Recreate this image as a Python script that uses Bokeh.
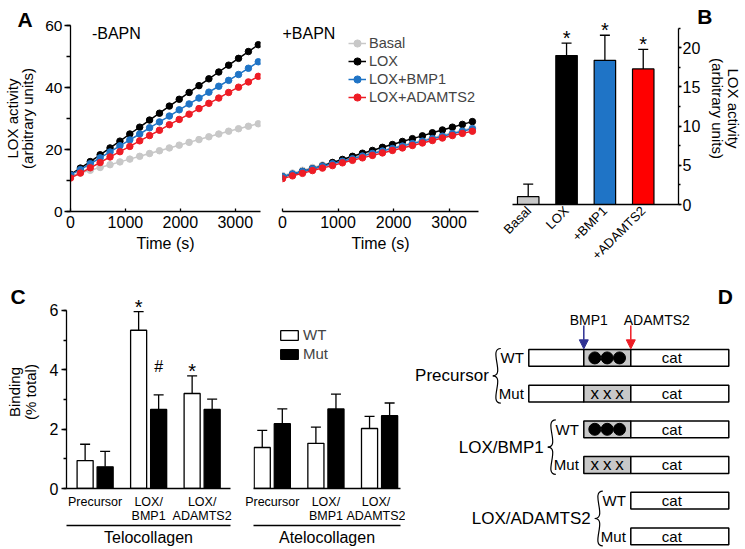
import math
from bokeh.plotting import figure
from bokeh.layouts import row, column
from bokeh.models import (Range1d, LinearAxis, SingleIntervalTicker, FixedTicker, Legend,
                          LegendItem, Whisker, TeeHead, ColumnDataSource, Arrow, NormalHead)
from bokeh.core.properties import value
from bokeh.embed import file_html
from bokeh.resources import INLINE

FONT = "Liberation Sans"

# ---------------- Panel A data (LOX activity time course) ----------------
time_s = [0, 180, 360, 540, 720, 900, 1080, 1260, 1440, 1620,
          1800, 1980, 2160, 2340, 2520, 2700, 2880, 3060, 3240, 3420]
series_names = ["Basal", "LOX", "LOX+BMP1", "LOX+ADAMTS2"]
series_colors = ["#c8c8c8", "#000000", "#1f74c6", "#ee1c25"]

noB_basal = [11.5, 12.4, 13.3, 14.2, 15.1, 16.0, 16.9, 17.8, 18.7, 19.6,
             20.5, 21.4, 22.3, 23.2, 24.1, 25.0, 25.9, 26.7, 27.5, 28.3]
noB_lox = [12.0, 14.0, 16.1, 18.3, 20.5, 22.7, 25.0, 27.2, 29.5, 31.7,
           34.0, 36.2, 38.4, 40.6, 42.8, 45.0, 47.2, 49.4, 51.6, 53.8]
noB_bmp1 = [11.8, 13.5, 15.4, 17.3, 19.2, 21.2, 23.1, 25.0, 27.0, 28.9,
            30.8, 32.8, 34.7, 36.6, 38.5, 40.4, 42.3, 44.2, 46.2, 48.3]
noB_adamts2 = [10.8, 12.4, 14.1, 15.8, 17.6, 19.3, 21.0, 22.8, 24.5, 26.2,
               28.0, 29.7, 31.4, 33.2, 34.9, 36.6, 38.4, 40.1, 41.8, 43.6]

B_basal = [11.6, 12.4, 13.3, 14.2, 15.0, 15.8, 16.6, 17.4, 18.2, 19.0,
           19.8, 20.6, 21.4, 22.2, 23.0, 23.8, 24.6, 25.4, 26.2, 27.0]
B_lox = [11.2, 12.0, 12.9, 13.8, 14.7, 15.8, 16.8, 17.8, 18.8, 19.7,
         20.7, 21.6, 22.6, 23.5, 24.4, 25.4, 26.3, 27.2, 28.1, 29.0]
B_bmp1 = [11.3, 12.1, 12.9, 13.8, 14.6, 15.4, 16.2, 17.0, 17.9, 18.7,
          19.5, 20.3, 21.1, 21.9, 22.7, 23.5, 24.3, 25.1, 25.9, 26.7]
B_adamts2 = [10.6, 11.5, 12.3, 13.2, 14.0, 14.8, 15.7, 16.5, 17.3, 18.1,
             18.9, 19.7, 20.5, 21.3, 22.1, 22.9, 23.7, 24.5, 25.2, 25.9]

# ---------------- Panel B data ----------------
b_categories = ["Basal", "LOX", "+BMP1", "+ADAMTS2"]
b_values = [1.0, 19.0, 18.4, 17.3]
b_sd = [1.6, 1.6, 3.2, 2.5]
b_colors = ["#c8c8c8", "#000000", "#1f74c6", "#ff0000"]
b_marks = ["", "*", "*", "*"]

# ---------------- Panel C data ----------------
c_groups = ["Precursor", "LOX/\nBMP1", "LOX/\nADAMTS2"]
telo_wt = [0.94, 5.33, 3.20]
telo_wt_sd = [0.55, 0.63, 0.59]
telo_mut = [0.73, 2.66, 2.66]
telo_mut_sd = [0.52, 0.49, 0.35]
telo_wt_marks = ["", "*", "*"]
telo_mut_marks = ["", "#", ""]
atelo_wt = [1.38, 1.52, 2.02]
atelo_wt_sd = [0.58, 0.55, 0.41]
atelo_mut = [2.18, 2.68, 2.45]
atelo_mut_sd = [0.50, 0.50, 0.43]
atelo_wt_marks = ["", "", ""]
atelo_mut_marks = ["", "", ""]

# ---------------- Panel D (construct diagram) ----------------
d_groups = ["Precursor", "LOX/BMP1", "LOX/ADAMTS2"]
d_variants = ["WT", "Mut"]
d_start = [0, 55, 102]          # N-terminus of each construct (sequence units)
bmp1_site = 55
adamts2_site = 102
c_term = 200
motif_x = [66.0, 78.4, 90.7]    # the three residues between the cleavage sites


def style_axis(ax, size="16px"):
    ax.axis_line_color = "black"
    ax.axis_line_width = 1.3
    ax.major_tick_line_color = "black"
    ax.major_tick_line_width = 1.3
    ax.minor_tick_line_color = "black"
    ax.minor_tick_line_width = 1.3
    ax.major_label_text_font = FONT
    ax.major_label_text_font_size = size
    ax.major_label_text_color = "black"
    ax.axis_label_text_font = FONT
    ax.axis_label_text_font_style = "normal"
    ax.axis_label_text_color = "black"
    ax.axis_label_text_line_height = 0.9


def new_fig(w, h, xr, yr, bl, br, bt, bb, **kw):
    p = figure(width=w, height=h, x_range=xr, y_range=yr, output_backend="svg",
               toolbar_location=None, min_border_left=bl, min_border_right=br,
               min_border_top=bt, min_border_bottom=bb, frame_align=False, **kw)
    p.outline_line_color = None
    p.grid.grid_line_color = None
    return p


def panel_letter(p, t, align, offset, valign, standoff):
    p.title.text = t
    p.title.text_font = FONT
    p.title.text_font_size = "21px"
    p.title.text_font_style = "bold"
    p.title.text_color = "black"
    p.title.align = align
    p.title.offset = offset
    p.title.standoff = standoff
    p.title.vertical_align = valign


# ---------------- Panel A ----------------
def lox_panel(w, bl, br, xmax, data, show_y, tag, tag_x):
    p = new_fig(w, 270, Range1d(0, xmax), Range1d(0, 60), bl, br, 25, 59,
                y_axis_location=("left" if show_y else None))
    xa = p.xaxis[0]
    style_axis(xa)
    xa.ticker = SingleIntervalTicker(interval=1000, num_minor_ticks=0)
    xa.major_tick_in = 3
    xa.major_tick_out = 0
    xa.major_label_standoff = 4
    xa.axis_label = "Time (s)"
    xa.axis_label_text_font_size = "16px"
    xa.axis_label_standoff = 4
    if show_y:
        ya = p.yaxis[0]
        style_axis(ya, "15.5px")
        ya.ticker = SingleIntervalTicker(interval=20, num_minor_ticks=2)
        ya.major_tick_out = 6
        ya.major_tick_in = 0
        ya.minor_tick_out = 4
        ya.minor_tick_in = 0
        ya.major_label_standoff = 2
        ya.axis_label = "LOX activity\n(arbitrary units)"
        ya.axis_label_text_font_size = "15px"
        ya.axis_label_standoff = 6
    items = []
    for name, vals, col in zip(series_names, data, series_colors):
        r1 = p.line(time_s, vals, line_color=col, line_width=1.5)
        r2 = p.scatter(time_s, vals, size=6.5, fill_color=col, line_color=col)
        items.append(LegendItem(label=name, renderers=[r1, r2]))
    p.text(x=[tag_x], y=[57.4], text=[tag], text_font=value(FONT),
           text_font_size=value("16px"), text_align="left", text_baseline="middle",
           text_color="black")
    return p, items


pa1, _ = lox_panel(265, 66, 5, 3460, [noB_basal, noB_lox, noB_bmp1, noB_adamts2],
                   True, "-BAPN", 390)
pa2, leg_items = lox_panel(235, 17, 22, 3530, [B_basal, B_lox, B_bmp1, B_adamts2],
                           False, "+BAPN", 0)
leg = Legend(items=leg_items, location=(66, 105), label_text_font=FONT,
             label_text_font_size="14.5px", glyph_width=18, glyph_height=18,
             label_height=18, label_standoff=3, spacing=0, padding=0, margin=0,
             border_line_color=None, background_fill_alpha=0)
pa2.add_layout(leg)
panel_letter(pa1, "A", "left", -53, "middle", -12)

# ---------------- Panel B ----------------
pb = new_fig(244, 270, Range1d(-0.41, 3.92), Range1d(0, 24.5), 12, 62, 12, 62,
             y_axis_location="right")
b_x = list(range(len(b_categories)))
pb.vbar(x=b_x, top=b_values, width=0.56, fill_color=b_colors, line_color="black",
        line_width=1.2)
b_src = ColumnDataSource(dict(base=b_x, lower=b_values,
                              upper=[v + s for v, s in zip(b_values, b_sd)]))
pb.add_layout(Whisker(source=b_src, base="base", lower="lower", upper="upper",
                      lower_head=None, upper_head=TeeHead(size=10, line_width=1.3),
                      line_width=1.3, line_color="black"))
mk = [i for i, m in enumerate(b_marks) if m]
pb.text(x=[b_x[i] for i in mk], y=[b_values[i] + b_sd[i] for i in mk],
        text=[b_marks[i] for i in mk], text_font=value(FONT), text_font_size=value("20px"),
        text_align="center", text_baseline="alphabetic", y_offset=-5, text_color="black")
xb = pb.xaxis[0]
style_axis(xb, "13px")
xb.ticker = FixedTicker(ticks=b_x)
xb.major_label_overrides = {i: c for i, c in enumerate(b_categories)}
xb.major_label_orientation = math.pi / 4
xb.major_tick_out = 0
xb.major_tick_in = 0
xb.major_label_standoff = 4
yb = pb.yaxis[0]
style_axis(yb)
yb.bounds = (0, 22.5)
yb.ticker = SingleIntervalTicker(interval=5, num_minor_ticks=2)
yb.major_tick_out = 3
yb.major_tick_in = 0
yb.minor_tick_out = 2
yb.minor_tick_in = 0
yb.major_label_standoff = 1
yb.axis_label = "LOX activity\n(arbitrary units)"
yb.axis_label_text_font_size = "15px"
yb.axis_label_standoff = 6
panel_letter(pb, "B", "right", -34, "bottom", -30)


# ---------------- Panel C ----------------
def binding_panel(w, xr, bl, br, wt, wt_sd, mut, mut_sd, wt_marks, mut_marks,
                  group_label, show_y):
    p = new_fig(w, 278, xr, Range1d(0, 6.5), bl, br, 25, 58,
                y_axis_location=("left" if show_y else None))
    gx = list(range(len(c_groups)))
    off = 0.187
    x_wt = [g - off for g in gx]
    x_mut = [g + off for g in gx]
    r_wt = p.vbar(x=x_wt, top=wt, width=0.30, fill_color="white", line_color="black",
                  line_width=1.3)
    r_mut = p.vbar(x=x_mut, top=mut, width=0.30, fill_color="black", line_color="black",
                   line_width=1.3)
    for xs, vals, sds, marks in ((x_wt, wt, wt_sd, wt_marks), (x_mut, mut, mut_sd, mut_marks)):
        src = ColumnDataSource(dict(base=xs, lower=vals,
                                    upper=[v + s for v, s in zip(vals, sds)]))
        p.add_layout(Whisker(source=src, base="base", lower="lower", upper="upper",
                             lower_head=None, upper_head=TeeHead(size=10, line_width=1.3),
                             line_width=1.3, line_color="black"))
        for i, m in enumerate(marks):
            if not m:
                continue
            p.text(x=[xs[i]], y=[vals[i] + sds[i]], text=[m], text_font=value(FONT),
                   text_font_size=value("20px" if m == "*" else "16px"), text_align="center",
                   text_baseline="alphabetic", y_offset=(-5 if m == "*" else -28),
                   text_color="black")
    xa = p.xaxis[0]
    style_axis(xa, "12.5px")
    xa.major_label_text_line_height = 1.0
    xa.ticker = FixedTicker(ticks=gx)
    xa.major_label_overrides = {i: c for i, c in enumerate(c_groups)}
    xa.major_tick_out = 0
    xa.major_tick_in = 0
    xa.major_label_standoff = 6
    ax2 = LinearAxis(ticker=FixedTicker(ticks=[]), axis_label=group_label)
    style_axis(ax2)
    ax2.axis_label_text_line_height = 1.0
    ax2.major_tick_out = 0
    ax2.major_tick_in = 0
    ax2.minor_tick_out = 0
    ax2.minor_tick_in = 0
    ax2.major_label_standoff = 0
    ax2.axis_label_standoff = 3
    ax2.axis_label_text_font_size = "16px"
    p.add_layout(ax2, "below")
    if show_y:
        ya = p.yaxis[0]
        style_axis(ya)
        ya.bounds = (0, 6)
        ya.ticker = SingleIntervalTicker(interval=2, num_minor_ticks=2)
        ya.major_tick_out = 5
        ya.major_tick_in = 0
        ya.minor_tick_out = 3
        ya.minor_tick_in = 0
        ya.major_label_standoff = 3
        ya.axis_label = "Binding\n(% total)"
        ya.axis_label_text_font_size = "15px"
        ya.axis_label_standoff = 8
    return p, r_wt, r_mut


pc1, _, _ = binding_panel(242, Range1d(-0.535, 2.53), 66, 12, telo_wt, telo_wt_sd,
                          telo_mut, telo_mut_sd, telo_wt_marks, telo_mut_marks,
                          "Telocollagen", True)
pc2, rw, rm = binding_panel(163, Range1d(-0.35, 2.39), 11, 5, atelo_wt, atelo_wt_sd,
                            atelo_mut, atelo_mut_sd, atelo_wt_marks, atelo_mut_marks,
                            "Atelocollagen", False)
leg_c = Legend(items=[LegendItem(label="WT", renderers=[rw]),
                      LegendItem(label="Mut", renderers=[rm])],
               location=(25, 126), label_text_font=FONT, label_text_font_size="15px",
               glyph_width=22, glyph_height=12, label_height=15, label_standoff=3,
               spacing=2, padding=0, margin=0, border_line_color=None,
               background_fill_alpha=0)
pc2.add_layout(leg_c)
panel_letter(pc1, "C", "left", -56, "bottom", -25)

# ---------------- Panel D ----------------
pd = figure(width=339, height=278, x_range=Range1d(-123.3, 215.7), y_range=Range1d(-5.34, 2.45),
            output_backend="svg", toolbar_location=None, min_border=0, frame_align=False,
            x_axis_location=None, y_axis_location=None)
pd.outline_line_color = None
pd.grid.grid_line_color = None

H = 0.235
ql, qr, qb, qt, qf = [], [], [], [], []
cat_x, cat_y = [], []
var_x, var_y, var_t = [], [], []
dot_x, dot_y, cross_x, cross_y = [], [], [], []
grp_x, grp_y, grp_t = [], [], []
br_x0, br_y0, br_x1, br_y1, br_cx0, br_cy0, br_cx1, br_cy1 = ([] for _ in range(8))
for g, (grp, start) in enumerate(zip(d_groups, d_start)):
    for v, var in enumerate(d_variants):
        yc = -(2 * g + v)
        edges = [start] + [s for s in (bmp1_site, adamts2_site) if s > start] + [c_term]
        for a, b in zip(edges[:-1], edges[1:]):
            ql.append(a); qr.append(b); qb.append(yc - H); qt.append(yc + H)
            qf.append("#c8c8c8" if (b == adamts2_site) else "white")
        cat_x.append(143); cat_y.append(yc)
        var_x.append(start - 5); var_y.append(yc); var_t.append(var)
        if start < adamts2_site:
            if var == "WT":
                dot_x += motif_x; dot_y += [yc] * len(motif_x)
            else:
                cross_x += motif_x; cross_y += [yc] * len(motif_x)
    yt = -(2 * g) + H + 0.03
    yb_ = -(2 * g + 1) - H - 0.03
    ym = (yt + yb_) / 2
    xr_ = start - 28
    w = 8
    tip = xr_ - w
    for yend in (yt, yb_):
        br_x0.append(xr_); br_y0.append(yend); br_x1.append(tip); br_y1.append(ym)
        br_cx0.append(xr_ - 1.6 * w); br_cy0.append(yend)
        br_cx1.append(xr_ + 0.6 * w); br_cy1.append(ym)
    grp_x.append(tip - 4); grp_y.append(ym); grp_t.append(grp)

pd.quad(left=ql, right=qr, bottom=qb, top=qt, fill_color=qf, line_color="black",
        line_width=1.5)
pd.scatter(dot_x, dot_y, size=12, fill_color="black", line_color="black")
pd.text(x=cross_x, y=cross_y, text=["x"] * len(cross_x), text_font=value(FONT),
        text_font_size=value("17px"), text_align="center", text_baseline="middle",
        text_color="black")
pd.text(x=cat_x, y=cat_y, text=["cat"] * len(cat_x), text_font=value(FONT),
        text_font_size=value("15px"), text_align="center", text_baseline="middle",
        text_color="black")
pd.text(x=var_x, y=var_y, text=var_t, text_font=value(FONT), text_font_size=value("15px"),
        text_align="right", text_baseline="middle", text_color="black")
pd.text(x=grp_x, y=grp_y, text=grp_t, text_font=value(FONT), text_font_size=value("17px"),
        text_align="right", text_baseline="middle", text_color="black")
pd.bezier(x0=br_x0, y0=br_y0, x1=br_x1, y1=br_y1, cx0=br_cx0, cy0=br_cy0,
          cx1=br_cx1, cy1=br_cy1, line_color="black", line_width=1.2)
site_names = ["BMP1", "ADAMTS2"]
site_x = [bmp1_site, adamts2_site]
site_colors = ["#2e3192", "#ed1c24"]
pd.text(x=[60, 128], y=[1.05, 1.05], text=site_names, text_font=value(FONT),
        text_font_size=value("14px"), text_align="center", text_baseline="middle",
        text_color="black")
for sx, sc in zip(site_x, site_colors):
    pd.add_layout(Arrow(end=NormalHead(size=9, fill_color=sc, line_color=sc),
                        x_start=sx, y_start=0.91, x_end=sx, y_end=H + 0.02,
                        line_color=sc, line_width=1.5))
pd.text(x=[189], y=[1.72], text=["D"], text_font=value(FONT), text_font_size=value("21px"),
        text_font_style="bold", text_align="left", text_baseline="middle", text_color="black")

layout = column(row(pa1, pa2, pb), row(pc1, pc2, pd))
open("out.html", "w").write(file_html(layout, INLINE))
